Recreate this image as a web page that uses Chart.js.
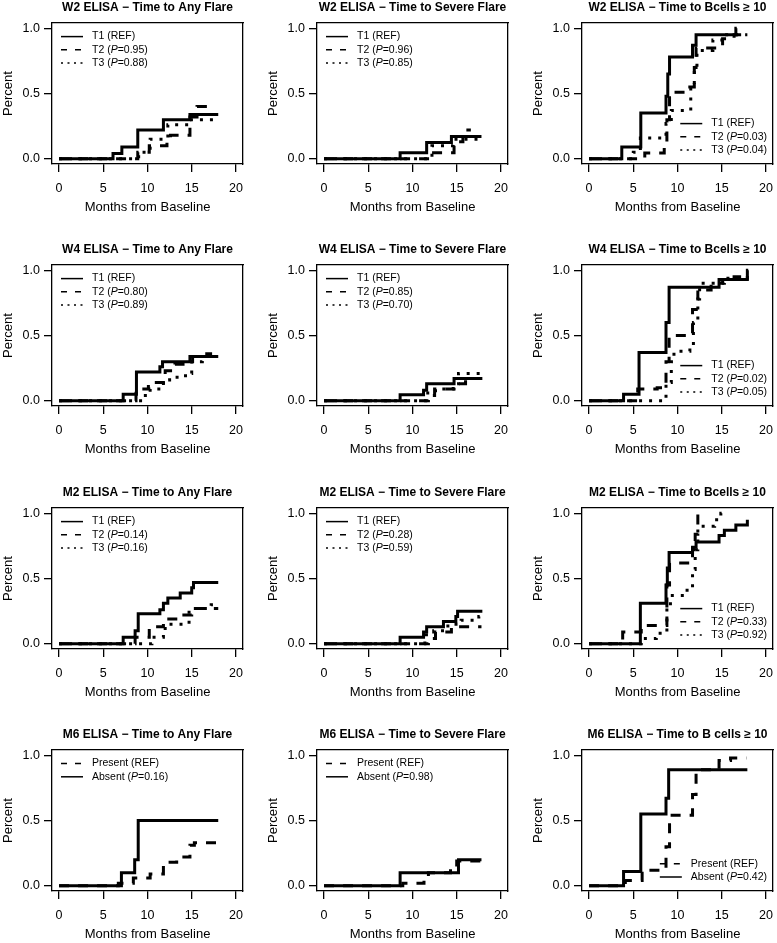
<!DOCTYPE html>
<html><head><meta charset="utf-8">
<script src="https://cdn.jsdelivr.net/npm/chart.js@4.4.1/dist/chart.umd.min.js"></script>
<style>
html,body{margin:0;padding:0;background:#fff;overflow:hidden;width:777px;height:943px;position:relative;}
canvas{position:absolute;}
</style></head><body>
<script>
// ---------- tick labels ----------
const X_TICKS = [0, 5, 10, 15, 20];
const X_TICK_LABELS = ['0', '5', '10', '15', '20'];
const Y_TICKS = [0, 0.5, 1];
const Y_TICK_LABELS = ['0.0', '0.5', '1.0'];
const X_LABEL = 'Months from Baseline';
const Y_LABEL = 'Percent';

// ---------- titles ----------
const TITLES = [
  'W2 ELISA − Time to Any Flare', 'W2 ELISA − Time to Severe Flare', 'W2 ELISA − Time to Bcells ≥ 10',
  'W4 ELISA − Time to Any Flare', 'W4 ELISA − Time to Severe Flare', 'W4 ELISA − Time to Bcells ≥ 10',
  'M2 ELISA − Time to Any Flare', 'M2 ELISA − Time to Severe Flare', 'M2 ELISA − Time to Bcells ≥ 10',
  'M6 ELISA − Time to Any Flare', 'M6 ELISA − Time to Severe Flare', 'M6 ELISA − Time to B cells ≥ 10'
];

// ---------- P values (legend) ----------
const W2_ANY_P = ['REF', '0.95', '0.88'];
const W2_SEV_P = ['REF', '0.96', '0.85'];
const W2_BC_P  = ['REF', '0.03', '0.04'];
const W4_ANY_P = ['REF', '0.80', '0.89'];
const W4_SEV_P = ['REF', '0.85', '0.70'];
const W4_BC_P  = ['REF', '0.02', '0.05'];
const M2_ANY_P = ['REF', '0.14', '0.16'];
const M2_SEV_P = ['REF', '0.28', '0.59'];
const M2_BC_P  = ['REF', '0.33', '0.92'];
const M6_ANY_P = ['REF', '0.16'];
const M6_SEV_P = ['REF', '0.98'];
const M6_BC_P  = ['REF', '0.42'];

// ---------- step curves: event times (months) and cumulative proportion ----------
// W2 Any Flare
const W2_ANY_T1_X = [0, 6.1, 7.1, 8.9, 11.8, 14.8, 18.0];
const W2_ANY_T1_Y = [0, 0.04, 0.09, 0.22, 0.30, 0.34, 0.34];
const W2_ANY_T2_X = [0, 8.9, 10.2, 12.2, 12.6, 14.8, 15.6, 16.8];
const W2_ANY_T2_Y = [0, 0.05, 0.10, 0.15, 0.18, 0.32, 0.40, 0.40];
const W2_ANY_T3_X = [0, 9.0, 10.3, 12.3, 14.7, 18.0];
const W2_ANY_T3_Y = [0, 0.05, 0.15, 0.26, 0.30, 0.30];
// W2 Severe Flare
const W2_SEV_T1_X = [0, 8.6, 11.6, 14.4, 17.8];
const W2_SEV_T1_Y = [0, 0.046, 0.125, 0.17, 0.17];
const W2_SEV_T2_X = [0, 11.9, 14.7, 15.7, 16.6];
const W2_SEV_T2_Y = [0, 0.046, 0.13, 0.22, 0.22];
const W2_SEV_T3_X = [0, 12.2, 14.6, 18.0];
const W2_SEV_T3_Y = [0, 0.10, 0.15, 0.15];
// W2 Bcells
const W2_BC_T1_X = [0, 3.7, 5.85, 8.7, 8.9, 9.1, 11.7, 12.1, 16.6, 16.7];
const W2_BC_T1_Y = [0, 0.09, 0.35, 0.48, 0.65, 0.78, 0.87, 0.95, 1.0, 1.0];
const W2_BC_T2_X = [0, 6.3, 8.5, 8.8, 9.1, 10.8, 11.9, 12.1, 15.1, 16.4, 17.9];
const W2_BC_T2_Y = [0, 0.045, 0.10, 0.30, 0.51, 0.55, 0.70, 0.85, 0.92, 0.95, 0.95];
const W2_BC_T3_X = [0, 5.0, 5.8, 8.7, 9.3, 11.5, 11.9, 12.2, 14.0, 15.3, 17.9];
const W2_BC_T3_Y = [0, 0.05, 0.16, 0.27, 0.37, 0.55, 0.70, 0.83, 0.91, 0.95, 0.95];
// W4 Any Flare
const W4_ANY_T1_X = [0, 7.25, 8.75, 11.4, 11.7, 14.8, 18.0];
const W4_ANY_T1_Y = [0, 0.05, 0.22, 0.26, 0.30, 0.34, 0.34];
const W4_ANY_T2_X = [0, 8.7, 10.1, 11.8, 12.0, 13.1, 14.6, 15.1, 16.7, 18.0];
const W4_ANY_T2_Y = [0, 0.09, 0.14, 0.19, 0.23, 0.28, 0.30, 0.34, 0.36, 0.36];
const W4_ANY_T3_X = [0, 9.5, 10.3, 11.8, 12.5, 14.3, 15.0, 16.2, 17.8, 18.0];
const W4_ANY_T3_Y = [0, 0.04, 0.09, 0.16, 0.18, 0.21, 0.30, 0.34, 0.37, 0.37];
// W4 Severe Flare
const W4_SEV_T1_X = [0, 8.6, 11.25, 11.6, 14.7, 17.9];
const W4_SEV_T1_Y = [0, 0.046, 0.08, 0.13, 0.17, 0.17];
const W4_SEV_T2_X = [0, 11.8, 12.5, 14.7, 16.0, 17.8];
const W4_SEV_T2_Y = [0, 0.04, 0.09, 0.13, 0.17, 0.17];
const W4_SEV_T3_X = [0, 11.5, 12.6, 14.6, 15.2, 18.0];
const W4_SEV_T3_Y = [0, 0.06, 0.09, 0.13, 0.21, 0.21];
// W4 Bcells
const W4_BC_T1_X = [0, 3.9, 5.65, 8.7, 9.05, 14.7, 17.9, 18.0];
const W4_BC_T1_Y = [0, 0.05, 0.37, 0.60, 0.87, 0.93, 1.0, 1.0];
const W4_BC_T2_X = [0, 5.5, 7.7, 8.7, 9.05, 11.7, 12.3, 13.8, 15.1, 16.4, 17.9];
const W4_BC_T2_Y = [0, 0.09, 0.10, 0.30, 0.50, 0.70, 0.85, 0.90, 0.93, 0.95, 0.95];
const W4_BC_T3_X = [0, 8.7, 9.3, 9.6, 11.4, 11.8, 12.3, 12.5, 15.3, 17.9, 18.0];
const W4_BC_T3_Y = [0, 0.14, 0.30, 0.38, 0.42, 0.60, 0.78, 0.90, 0.94, 0.97, 0.97];
// M2 Any Flare
const M2_ANY_T1_X = [0, 7.25, 8.6, 8.95, 11.4, 11.8, 12.3, 13.7, 15.0, 15.2, 18.0];
const M2_ANY_T1_Y = [0, 0.05, 0.10, 0.23, 0.26, 0.31, 0.35, 0.39, 0.43, 0.47, 0.47];
const M2_ANY_T2_X = [0, 8.6, 10.2, 11.8, 13.2, 15.0, 18.0];
const M2_ANY_T2_Y = [0, 0.05, 0.13, 0.19, 0.22, 0.27, 0.27];
const M2_ANY_T3_X = [0, 10.5, 11.8, 12.0, 14.7, 17.2, 18.0];
const M2_ANY_T3_Y = [0, 0.05, 0.09, 0.15, 0.27, 0.30, 0.30];
// M2 Severe Flare
const M2_SEV_T1_X = [0, 8.6, 11.25, 11.6, 13.5, 14.9, 15.1, 17.9];
const M2_SEV_T1_Y = [0, 0.05, 0.09, 0.13, 0.17, 0.21, 0.25, 0.25];
const M2_SEV_T2_X = [0, 11.8, 12.6, 14.4, 17.8];
const M2_SEV_T2_Y = [0, 0.04, 0.09, 0.13, 0.13];
const M2_SEV_T3_X = [0, 11.4, 12.4, 14.0, 15.5, 17.5, 18.0];
const M2_SEV_T3_Y = [0, 0.07, 0.10, 0.15, 0.18, 0.21, 0.21];
// M2 Bcells
const M2_BC_T1_X = [0, 5.8, 8.7, 8.85, 9.05, 11.7, 12.1, 14.7, 15.3, 16.6, 17.9];
const M2_BC_T1_Y = [0, 0.31, 0.45, 0.58, 0.70, 0.74, 0.78, 0.83, 0.87, 0.91, 0.95];
const M2_BC_T2_X = [0, 3.8, 5.9, 8.8, 9.1, 11.7, 12.0, 12.3, 12.4];
const M2_BC_T2_Y = [0, 0.09, 0.14, 0.45, 0.62, 0.72, 0.84, 1.0, 1.0];
const M2_BC_T3_X = [0, 5.9, 7.6, 8.8, 9.2, 10.8, 11.7, 12.0, 12.3, 14.2, 14.9, 15.0];
const M2_BC_T3_Y = [0, 0.04, 0.08, 0.29, 0.37, 0.41, 0.57, 0.72, 0.90, 0.95, 1.0, 1.0];
// M6 Any Flare
const M6_ANY_PRES_X = [0, 6.7, 8.4, 10.3, 11.8, 13.3, 14.8, 15.3, 18.0];
const M6_ANY_PRES_Y = [0, 0.02, 0.06, 0.09, 0.18, 0.22, 0.31, 0.33, 0.33];
const M6_ANY_ABS_X = [0, 7.05, 8.55, 8.95, 18.0];
const M6_ANY_ABS_Y = [0, 0.10, 0.20, 0.50, 0.50];
// M6 Severe Flare
const M6_SEV_PRES_X = [0, 8.9, 11.3, 11.8, 14.3, 15.0, 17.8];
const M6_SEV_PRES_Y = [0, 0.02, 0.04, 0.10, 0.16, 0.19, 0.19];
const M6_SEV_ABS_X = [0, 8.6, 15.2, 17.8];
const M6_SEV_ABS_Y = [0, 0.10, 0.20, 0.20];
// M6 B cells
const M6_BC_PRES_X = [0, 4.1, 6.0, 8.7, 9.1, 11.7, 12.1, 14.7, 16.0, 17.8];
const M6_BC_PRES_Y = [0, 0.04, 0.12, 0.30, 0.54, 0.70, 0.89, 0.96, 0.98, 0.98];
const M6_BC_ABS_X = [0, 3.9, 5.85, 8.7, 9.0, 17.9];
const M6_BC_ABS_Y = [0, 0.11, 0.55, 0.67, 0.89, 0.89];

// ---------- styles / layout ----------
const FONT = "'Liberation Sans', Arial, Helvetica, sans-serif";
const DASH = {solid: [], dashed: [10, 9], dotted: [3, 7]};
const LEG_DASH = {solid: [], dashed: [6, 8], dotted: [2, 4.5]};
const COL_LEFT = [0, 265, 530];
const ROW_TOP = [0, 242, 485, 727];
const CW = 295, CH = 215;
const PLOT_LEFT = 52, PLOT_RIGHT = 243, PLOT_BOTTOM = 164;

function tri(x1, y1, x2, y2, x3, y3, P) {
  return [
    {name: 'T1', p: P[0], x: x1, y: y1, style: 'solid'},
    {name: 'T2', p: P[1], x: x2, y: y2, style: 'dashed'},
    {name: 'T3', p: P[2], x: x3, y: y3, style: 'dotted'}
  ];
}
function duo(xp, yp, xa, ya, P) {
  return [
    {name: 'Present', p: P[0], x: xp, y: yp, style: 'dashed'},
    {name: 'Absent', p: P[1], x: xa, y: ya, style: 'solid'}
  ];
}

const PANELS = [
  {legend: 'topleft', series: tri(W2_ANY_T1_X, W2_ANY_T1_Y, W2_ANY_T2_X, W2_ANY_T2_Y, W2_ANY_T3_X, W2_ANY_T3_Y, W2_ANY_P)},
  {legend: 'topleft', series: tri(W2_SEV_T1_X, W2_SEV_T1_Y, W2_SEV_T2_X, W2_SEV_T2_Y, W2_SEV_T3_X, W2_SEV_T3_Y, W2_SEV_P)},
  {legend: 'bottomright', series: tri(W2_BC_T1_X, W2_BC_T1_Y, W2_BC_T2_X, W2_BC_T2_Y, W2_BC_T3_X, W2_BC_T3_Y, W2_BC_P)},
  {legend: 'topleft', series: tri(W4_ANY_T1_X, W4_ANY_T1_Y, W4_ANY_T2_X, W4_ANY_T2_Y, W4_ANY_T3_X, W4_ANY_T3_Y, W4_ANY_P)},
  {legend: 'topleft', series: tri(W4_SEV_T1_X, W4_SEV_T1_Y, W4_SEV_T2_X, W4_SEV_T2_Y, W4_SEV_T3_X, W4_SEV_T3_Y, W4_SEV_P)},
  {legend: 'bottomright', series: tri(W4_BC_T1_X, W4_BC_T1_Y, W4_BC_T2_X, W4_BC_T2_Y, W4_BC_T3_X, W4_BC_T3_Y, W4_BC_P)},
  {legend: 'topleft', series: tri(M2_ANY_T1_X, M2_ANY_T1_Y, M2_ANY_T2_X, M2_ANY_T2_Y, M2_ANY_T3_X, M2_ANY_T3_Y, M2_ANY_P)},
  {legend: 'topleft', series: tri(M2_SEV_T1_X, M2_SEV_T1_Y, M2_SEV_T2_X, M2_SEV_T2_Y, M2_SEV_T3_X, M2_SEV_T3_Y, M2_SEV_P)},
  {legend: 'bottomright', series: tri(M2_BC_T1_X, M2_BC_T1_Y, M2_BC_T2_X, M2_BC_T2_Y, M2_BC_T3_X, M2_BC_T3_Y, M2_BC_P)},
  {legend: 'topleft', series: duo(M6_ANY_PRES_X, M6_ANY_PRES_Y, M6_ANY_ABS_X, M6_ANY_ABS_Y, M6_ANY_P)},
  {legend: 'topleft', series: duo(M6_SEV_PRES_X, M6_SEV_PRES_Y, M6_SEV_ABS_X, M6_SEV_ABS_Y, M6_SEV_P)},
  {legend: 'bottomright', series: duo(M6_BC_PRES_X, M6_BC_PRES_Y, M6_BC_ABS_X, M6_BC_ABS_Y, M6_BC_P)}
];

// legend drawn inside plot (supports italic P)
const kmLegend = {
  id: 'kmLegend',
  afterDraw(chart, args, opts) {
    const items = opts.items;
    if (!items) return;
    const ctx = chart.ctx, a = chart.chartArea;
    const size = 10.5;
    const fN = size + 'px ' + FONT, fI = 'italic ' + size + 'px ' + FONT;
    ctx.save();
    ctx.fillStyle = '#000'; ctx.strokeStyle = '#000';
    ctx.textBaseline = 'middle'; ctx.textAlign = 'left';
    const parts = items.map(it => it.p === 'REF'
      ? [[it.name + ' (REF)', fN]]
      : [[it.name + ' (', fN], ['P', fI], ['=' + it.p + ')', fN]]);
    const widths = parts.map(ps => ps.reduce((w, [t, f]) => { ctx.font = f; return w + ctx.measureText(t).width; }, 0));
    const maxW = Math.max(...widths);
    const rowH = 13.2;
    let textX, y0;
    if (opts.pos === 'topleft') { textX = a.left + 40; y0 = a.top + 13.5; }
    else { textX = a.right - 6 - maxW; y0 = a.bottom - 14 - (items.length - 1) * rowH; }
    items.forEach((it, i) => {
      const y = y0 + i * rowH;
      ctx.lineWidth = 1.5;
      ctx.setLineDash(LEG_DASH[it.style]);
      ctx.beginPath(); ctx.moveTo(textX - 31, y); ctx.lineTo(textX - 9, y); ctx.stroke();
      ctx.setLineDash([]);
      let x = textX;
      parts[i].forEach(([t, f]) => { ctx.font = f; ctx.fillText(t, x, y); x += ctx.measureText(t).width; });
    });
    ctx.restore();
  }
};

const axisLine = {display: true, color: '#000', width: 1.3};

PANELS.forEach((p, idx) => {
  const r = Math.floor(idx / 3), c = idx % 3;
  const cv = document.createElement('canvas');
  cv.width = CW; cv.height = CH;
  cv.style.left = COL_LEFT[c] + 'px'; cv.style.top = ROW_TOP[r] + 'px';
  cv.style.width = CW + 'px'; cv.style.height = CH + 'px';
  document.body.appendChild(cv);
  const datasets = p.series.map(s => ({
    label: s.name,
    data: s.x.map((t, i) => ({x: t, y: s.y[i]})),
    borderColor: '#000', backgroundColor: '#000', borderWidth: 3,
    borderDash: DASH[s.style], stepped: 'before', pointRadius: 0,
    fill: false, tension: 0, xAxisID: 'x', yAxisID: 'y'
  }));
  new Chart(cv.getContext('2d'), {
    type: 'line',
    data: {datasets},
    options: {
      responsive: false, animation: false, devicePixelRatio: 1,
      layout: {padding: {left: 0, right: 0, top: 0, bottom: 0}},
      plugins: {
        legend: {display: false}, tooltip: {enabled: false},
        title: {display: true, text: TITLES[idx], color: '#000',
          font: {family: FONT, size: 12, weight: 'bold', lineHeight: 1.2},
          padding: {top: 0, bottom: 8.7}},
        kmLegend: {pos: p.legend, items: p.series}
      },
      scales: {
        x: {
          type: 'linear', position: 'bottom', min: -0.8, max: 20.8,
          afterBuildTicks: s => { s.ticks = X_TICKS.map(v => ({value: v})); },
          afterFit: s => { s.height = CH - PLOT_BOTTOM; },
          grid: {display: true, drawOnChartArea: false, drawTicks: true, tickLength: 8, color: '#000', lineWidth: 1.3},
          border: axisLine,
          ticks: {color: '#000', font: {family: FONT, size: 12.5}, padding: 9, maxRotation: 0, autoSkip: false,
            callback: (v, i) => X_TICK_LABELS[i]},
          title: {display: true, text: X_LABEL, color: '#000', font: {family: FONT, size: 13, lineHeight: 1.2}, padding: {top: 0, bottom: 0}}
        },
        y: {
          type: 'linear', position: 'left', min: -0.04, max: 1.04,
          afterBuildTicks: s => { s.ticks = Y_TICKS.map(v => ({value: v})); },
          afterFit: s => { s.width = PLOT_LEFT; },
          grid: {display: true, drawOnChartArea: false, drawTicks: true, tickLength: 8, color: '#000', lineWidth: 1.3},
          border: axisLine,
          ticks: {color: '#000', font: {family: FONT, size: 12.5}, padding: 4, autoSkip: false,
            callback: (v, i) => Y_TICK_LABELS[i]},
          title: {display: true, text: Y_LABEL, color: '#000', font: {family: FONT, size: 13, lineHeight: 1.2}, padding: {top: 1, bottom: 0}}
        },
        x2: {
          type: 'linear', position: 'top', min: -0.8, max: 20.8,
          afterFit: s => { s.height = 0; },
          grid: {display: false, drawTicks: false}, ticks: {display: false}, border: axisLine
        },
        y2: {
          type: 'linear', position: 'right', min: -0.04, max: 1.04,
          afterFit: s => { s.width = CW - PLOT_RIGHT; },
          grid: {display: false, drawTicks: false}, ticks: {display: false}, border: axisLine
        }
      }
    },
    plugins: [kmLegend]
  });
});
</script>
</body></html>
